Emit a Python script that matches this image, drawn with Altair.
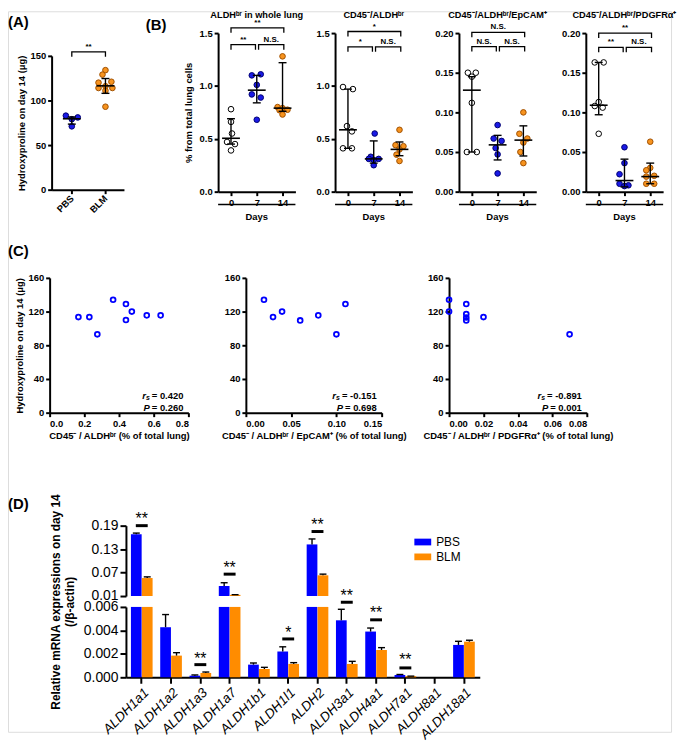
import altair as alt
import pandas as pd

FONT = "Liberation Sans"
BLUE = "#0000FF"
ORANGE = "#FF8C00"
PT_BLUE = "#1a1ae6"
PT_ORANGE = "#f7931e"
ST_BLUE = "#000070"
ST_ORANGE = "#a05000"

# ---------------- Panel A data ----------------
a_cats = ["PBS", "BLM"]
a_pbs = [83, 81, 79, 71]
a_pbs_jit = [-6, 6, 0, 0]
a_blm = [134, 129, 121, 120, 116, 114, 114, 111, 93]
a_blm_jit = [0, -3, 6, -7, 0, -7, 7, 0, 0]
a_center = [79.5, 116.4]
a_low = [73.5, 108.0]
a_high = [81.5, 124.6]
a_br = [(0, 1, 154.5, "**")]

# ---------------- Panel B data ----------------
b_days = ["0", "7", "14"]
b_titles = ["ALDHᵇʳ in whole lung", "CD45⁻/ALDHᵇʳ", "CD45⁻/ALDHᵇʳ/EpCAM⁺", "CD45⁻/ALDHᵇʳ/PDGFRα⁺"]

b1_vals = [[0.78, 0.66, 0.55, 0.47, 0.45, 0.39],
           [1.10, 1.11, 1.01, 0.92, 0.89, 0.68],
           [1.28, 0.80, 0.79, 0.775, 0.77, 0.73]]
b1_jit = [[0, 0, 1, -4, 4, 0], [-5, 4, 0, -5, 4, 0], [0, -5, 0, 5, -3, 0]]
b1_c, b1_lo, b1_hi = [0.505, 0.96, 0.79], [0.45, 0.84, 0.76], [0.69, 1.10, 1.22]

b2_vals = [[0.99, 0.97, 0.62, 0.57, 0.41, 0.41],
           [0.55, 0.33, 0.31, 0.31, 0.30, 0.25],
           [0.585, 0.44, 0.43, 0.40, 0.35, 0.29]]
b2_jit = [[-5, 5, -1, 4, -5, 4], [1, -3, -5, 5, 0, 0], [0, -4, 4, 0, -3, 0]]
b2_c, b2_lo, b2_hi = [0.585, 0.31, 0.40], [0.41, 0.27, 0.34], [0.97, 0.48, 0.47]

b3_vals = [[0.15, 0.15, 0.145, 0.112, 0.05, 0.05],
           [0.084, 0.067, 0.064, 0.055, 0.047, 0.023],
           [0.10, 0.073, 0.067, 0.062, 0.050, 0.036]]
b3_jit = [[-4, 4, 0, 0, -5, 5], [0, -4, 4, -2, 0, 0], [0, -4, 4, 0, -3, 0]]
b3_c, b3_lo, b3_hi = [0.128, 0.059, 0.065], [0.05, 0.040, 0.045], [0.145, 0.071, 0.083]

b4_vals = [[0.163, 0.163, 0.113, 0.108, 0.106, 0.073],
           [0.056, 0.036, 0.022, 0.010, 0.008, 0.007],
           [0.063, 0.030, 0.027, 0.020, 0.019, 0.010, 0.010]]
b4_jit = [[-4, 5, 0, -4, 4, 0], [0, 0, -5, -5, 4, 0], [0, 0, -4, 4, -4, -4, 4]]
b4_c, b4_lo, b4_hi = [0.109, 0.014, 0.019], [0.097, 0.006, 0.010], [0.163, 0.041, 0.036]

# brackets: (from, to, level, label)
b1_br = [(0, 2.05, 1.55, "**"), (0, 0.95, 1.39, "**"), (1.07, 2.05, 1.39, "N.S.")]
b2_br = [(0, 2.05, 1.515, "*"), (0, 0.95, 1.37, "*"), (1.07, 2.05, 1.37, "N.S.")]
b3_br = [(0, 2.05, 0.201, "N.S."), (0, 0.95, 0.183, "N.S."), (1.07, 2.05, 0.183, "N.S.")]
b4_br = [(0, 2.05, 0.200, "**"), (0, 0.95, 0.182, "**"), (1.07, 2.05, 0.182, "N.S.")]

# ---------------- Panel C data ----------------
c1_x = [0.166, 0.229, 0.275, 0.366, 0.44, 0.44, 0.474, 0.56, 0.64]
c1_y = [113.5, 113.5, 93, 134, 129, 110, 120, 115.5, 115.5]
c2_x = [0.02, 0.03, 0.04, 0.06, 0.08, 0.10, 0.11]
c2_y = [134, 113.5, 120, 109.5, 115.5, 93, 129]
c3_x = [0.0, 0.0, 0.01, 0.01, 0.01, 0.01, 0.02, 0.07]
c3_y = [134, 120, 129, 117, 113, 109.5, 113.5, 93]
c_stats = [("0.420", "0.260"), ("-0.151", "0.698"), ("-0.891", "0.001")]
c_titles = ["CD45⁻ / ALDHᵇʳ (% of total lung)",
            "CD45⁻ / ALDHᵇʳ / EpCAM⁺ (% of total lung)",
            "CD45⁻ / ALDHᵇʳ / PDGFRα⁺ (% of total lung)"]

# ---------------- Panel D data ----------------
genes = ["ALDH1a1", "ALDH1a2", "ALDH1a3", "ALDH1a7", "ALDH1b1", "ALDH1l1",
         "ALDH2", "ALDH3a1", "ALDH4a1", "ALDH7a1", "ALDH8a1", "ALDH18a1"]
pbs = [0.168, 0.00427, 0.00014, 0.0357, 0.00108, 0.0022, 0.142, 0.00486, 0.0039, 0.0002, 0.0, 0.00276]
pbs_err = [0.171, 0.00535, 0.0002, 0.044, 0.00122, 0.0026, 0.156, 0.0058, 0.0042, 0.00024, 0.0, 0.00307]
blm = [0.056, 0.00185, 0.00037, 0.013, 0.00071, 0.00114, 0.063, 0.00114, 0.00233, 0.0001, 0.0, 0.00304]
blm_err = [0.059, 0.0021, 0.00045, 0.0135, 0.00085, 0.00125, 0.066, 0.00136, 0.00253, 0.0001, 0.0, 0.00316]
d_sig = [("ALDH1a1", "top", "**", 0.19, 0.214),
         ("ALDH1a7", "top", "**", 0.066, 0.089),
         ("ALDH2", "top", "**", 0.175, 0.199),
         ("ALDH1a3", "bot", "**", 0.00108, 0.0018),
         ("ALDH1l1", "bot", "*", 0.00327, 0.0040),
         ("ALDH3a1", "bot", "**", 0.0064, 0.0072),
         ("ALDH4a1", "bot", "**", 0.0049, 0.0057),
         ("ALDH7a1", "bot", "**", 0.0008, 0.0017)]

# ---------------- layout (picture pixels) ----------------
OFF = 8
W, H = 669, 727
GEO = {
    "A": (52, 125, 53, 188),
    "B1": (220, 298, 30, 190),
    "B2": (338, 416, 30, 190),
    "B3": (463, 541, 30, 190),
    "B4": (591, 669, 30, 190),
    "C1": (50, 190, 277, 413),
    "C2": (248, 385, 277, 413),
    "C3": (453, 592, 277, 413),
    "DT": (127, 484, 527, 598),
    "DB": (127, 484, 609, 680),
}


def P(v):
    return v - OFF


def ax(**kw):
    base = dict(domainColor="black", domainWidth=2, tickColor="black", tickWidth=2, tickSize=4,
                labelFont=FONT, labelFontWeight="bold", labelFontSize=9.5, labelColor="black",
                titleFont=FONT, titleFontWeight="bold", titleFontSize=9.5, titleColor="black",
                grid=False, labelPadding=2)
    base.update(kw)
    return alt.Axis(**base)


def txt(t, x, y, size=15, align="left", baseline="middle", weight="bold", style="normal"):
    return alt.Chart(pd.DataFrame({"t": [t]})).mark_text(
        font=FONT, fontWeight=weight, fontStyle=style, fontSize=size, align=align,
        baseline=baseline, color="black").encode(text="t:N", x=alt.value(P(x)), y=alt.value(P(y)))


def dot_panel(geo, xdom, cats, groups, jits, center, low, high, ymax, yticks, yfmt,
              fills, strokes, brackets, ytitle=None, xangle=0, ytitle_pad=3):
    x0, x1, yt, yb = geo
    ppx = (x1 - x0) / (xdom[1] - xdom[0])
    ppy = (yb - yt) / ymax
    rows = []
    for gi, (vals, js) in enumerate(zip(groups, jits)):
        for v, j in zip(vals, js):
            rows.append({"x": gi + j / ppx, "y": v, "g": cats[gi]})
    pts = pd.DataFrame(rows)
    n = len(cats)
    st = pd.DataFrame({"x": list(range(n)), "c": center, "lo": low, "hi": high})
    caps = pd.DataFrame({"x": list(range(n)) * 2, "y": list(low) + list(high)})
    parts = [f"datum.value == {i} ? '{l}'" for i, l in enumerate(cats[:-1])] + [f"'{cats[-1]}'"]
    expr = " : ".join(parts)
    xaxis_kw = dict(values=list(range(n)), labelExpr=expr, title=None, orient="bottom", offset=P(yb) - H)
    if xangle:
        xaxis_kw.update(labelAngle=xangle, labelAlign="right", labelBaseline="middle", labelPadding=3)
    xaxis = ax(**xaxis_kw)
    yaxis = ax(values=yticks, format=yfmt, title=ytitle, titlePadding=ytitle_pad,
               orient="left", offset=-P(x0))
    xs = alt.Scale(domain=list(xdom), range=[P(x0), P(x1)], nice=False, zero=False)
    ys = alt.Scale(domain=[0, ymax], range=[P(yb), P(yt)], nice=False, zero=False)

    def X(f):
        return alt.X(f, type="quantitative", scale=xs, axis=xaxis)

    def Y(f):
        return alt.Y(f, type="quantitative", scale=ys, axis=yaxis)

    drop = 5 / ppy
    brow = []
    for k, (a, b, yv, lab) in enumerate(brackets):
        for o, (xx, yy) in enumerate([(a, yv - drop), (a, yv), (b, yv), (b, yv - drop)]):
            brow.append({"x": xx, "y": yy, "id": k, "o": o})
    bdf = pd.DataFrame(brow)
    btx = pd.DataFrame([{"x": (a + b) / 2, "y": yv, "t": lab} for a, b, yv, lab in brackets])

    return alt.layer(
        alt.Chart(pts).mark_point(shape="circle", filled=True, size=32, strokeWidth=1, opacity=1).encode(
            x=X("x"), y=Y("y"),
            fill=alt.Fill("g:N", scale=alt.Scale(domain=cats, range=fills), legend=None),
            stroke=alt.Stroke("g:N", scale=alt.Scale(domain=cats, range=strokes), legend=None)),
        alt.Chart(st).mark_rule(color="black", strokeWidth=1.4).encode(x=X("x"), y=Y("lo"), y2="hi"),
        alt.Chart(caps).mark_tick(orient="horizontal", size=8, thickness=1.4, color="black", opacity=1).encode(
            x=X("x"), y=Y("y")),
        alt.Chart(st).mark_tick(orient="horizontal", size=18, thickness=1.6, color="black", opacity=1).encode(
            x=X("x"), y=Y("c")),
        alt.Chart(bdf).mark_line(color="black", strokeWidth=1.3).encode(
            x=X("x"), y=Y("y"), detail="id:N", order="o:Q"),
        alt.Chart(btx).mark_text(font=FONT, fontWeight="bold", fontSize=8, baseline="bottom", dy=-1,
                                 color="black").encode(x=X("x"), y=Y("y"), text="t:N"),
    )


layers = []

# ---------------- Panel A ----------------
layers.append(dot_panel(GEO["A"], (-0.6, 1.55), a_cats, [a_pbs, a_blm], [a_pbs_jit, a_blm_jit],
                        a_center, a_low, a_high, 150, [0, 50, 100, 150], "d",
                        [PT_BLUE, PT_ORANGE], [ST_BLUE, ST_ORANGE], a_br,
                        ytitle="Hydroxyproline on day 14 (μg)", xangle=-45))
layers.append(txt("(A)", 8, 19))

# ---------------- Panel B ----------------
b_sets = [("B1", b1_vals, b1_jit, b1_c, b1_lo, b1_hi, 1.5, [0, 0.5, 1.0, 1.5], ".1f", b1_br),
          ("B2", b2_vals, b2_jit, b2_c, b2_lo, b2_hi, 1.5, [0, 0.5, 1.0, 1.5], ".1f", b2_br),
          ("B3", b3_vals, b3_jit, b3_c, b3_lo, b3_hi, 0.2, [0, 0.05, 0.10, 0.15, 0.20], ".2f", b3_br),
          ("B4", b4_vals, b4_jit, b4_c, b4_lo, b4_hi, 0.2, [0, 0.05, 0.10, 0.15, 0.20], ".2f", b4_br)]
for i, (key, vals, jit, c, lo, hi, ymax, yt, yf, br) in enumerate(b_sets):
    x0, x1, ytop, ybot = GEO[key]
    layers.append(dot_panel(GEO[key], (-0.5, 2.5), b_days, vals, jit, c, lo, hi, ymax, yt, yf,
                            ["white", PT_BLUE, PT_ORANGE], ["black", ST_BLUE, ST_ORANGE], br,
                            ytitle="% from total lung cells" if i == 0 else None, ytitle_pad=6))
    layers.append(txt(b_titles[i], (x0 + x1) / 2, 8, size=9.3, align="center", baseline="top"))
    layers.append(alt.Chart(pd.DataFrame({"t": ["Days"]})).mark_rule(color="black", strokeWidth=1.6).encode(
        x=alt.value(P(x0)), x2=alt.value(P(x1)), y=alt.value(P(ybot + 13))))
    layers.append(txt("Days", (x0 + x1) / 2, ybot + 26, size=9.5, align="center"))
layers.append(txt("(B)", 147, 22))

# ---------------- Panel C ----------------
CW = {".": 0.278, "=": 0.584, " ": 0.278, "-": 0.333}
c_sets = [("C1", c1_x, c1_y, (0, 0.8), [0, 0.2, 0.4, 0.6, 0.8], ".1f"),
          ("C2", c2_x, c2_y, (0, 0.15), [0, 0.05, 0.10, 0.15], ".2f"),
          ("C3", c3_x, c3_y, (0, 0.08), [0, 0.02, 0.04, 0.06, 0.08], ".2f")]
for i, (key, xs_, ys_, xdom, xticks, xfmt) in enumerate(c_sets):
    x0, x1, ytop, ybot = GEO[key]
    df = pd.DataFrame({"x": xs_, "y": ys_})
    xaxis = ax(values=xticks, format=xfmt, title=c_titles[i], titlePadding=3,
               orient="bottom", offset=P(ybot) - H)
    yaxis = ax(values=[0, 40, 80, 120, 160], title="Hydroxyproline on day 14 (μg)" if i == 0 else None,
               titlePadding=4, orient="left", offset=-P(x0))
    layers.append(alt.Chart(df).mark_point(shape="circle", filled=False, size=24, strokeWidth=1.8,
                                           color=BLUE, opacity=1).encode(
        x=alt.X("x:Q", scale=alt.Scale(domain=list(xdom), range=[P(x0), P(x1)], nice=False), axis=xaxis),
        y=alt.Y("y:Q", scale=alt.Scale(domain=[0, 160], range=[P(ybot), P(ytop)], nice=False), axis=yaxis)))
    rs, pv = c_stats[i]
    right = x1 - 5
    fs = 9.5
    for val, lead, yy in ((rs, "r", ybot - 17), (pv, "P", ybot - 5)):
        eq = "= " + val
        w = sum(CW.get(ch, 0.556) for ch in eq) * fs
        layers.append(txt(eq, right, yy, size=fs, align="right"))
        if lead == "r":
            layers.append(txt("s", right - w - 2, yy + 2, size=7, align="right", style="italic"))
            layers.append(txt("r", right - w - 6, yy, size=fs, align="right", style="italic"))
        else:
            layers.append(txt("P", right - w - 2, yy, size=fs, align="right", style="italic"))
layers.append(txt("(C)", 8, 250))

# ---------------- Panel D ----------------
drows = []
for i, g in enumerate(genes):
    drows.append({"gene": g, "grp": "PBS", "v": pbs[i], "e": pbs_err[i]})
    drows.append({"gene": g, "grp": "BLM", "v": blm[i], "e": blm_err[i]})
ddf = pd.DataFrame(drows)
sig = pd.DataFrame([{"gene": g, "seg": s, "t": t, "ly": ly, "ty": ty} for g, s, t, ly, ty in d_sig])

dx0, dx1 = GEO["DT"][0], GEO["DT"][1]
xband = alt.Scale(domain=genes, range=[P(dx0), P(dx1)], paddingInner=0.26, paddingOuter=0.17)
xoff = alt.XOffset("grp:N", sort=["PBS", "BLM"],
                   scale=alt.Scale(domain=["PBS", "BLM"], paddingInner=0.02, paddingOuter=0))
dax = dict(domainColor="black", domainWidth=2, tickColor="black", tickWidth=2, tickSize=6,
           labelFont=FONT, labelFontSize=14, labelFontWeight="normal", labelColor="black", grid=False,
           labelPadding=2)

d_mid = P((GEO["DT"][2] + GEO["DB"][3]) / 2)
top_yaxis = alt.Axis(values=[0.01, 0.07, 0.13, 0.19], format=".2f", orient="left", offset=-P(dx0),
                     title=["Relative mRNA expressions on day 14", "(/β-actin)"],
                     titleFont=FONT, titleFontSize=12, titleFontWeight="bold", titleColor="black",
                     titleX=-71, titleY=d_mid, titleAlign="center", titleBaseline="middle", titleAngle=270,
                     titleLineHeight=14, **dax)
bot_yaxis = alt.Axis(values=[0, 0.002, 0.004, 0.006], format=".3f", title=None, orient="left",
                     offset=-P(dx0), **dax)
bot_xaxis = alt.Axis(title=None, labelAngle=-45, labelFontStyle="italic", orient="bottom",
                     offset=P(GEO["DB"][3]) - H, **{**dax, "labelFontSize": 13.5})
legend = alt.Legend(orient="none", legendX=P(418), legendY=P(535), title=None,
                    symbolType="M-1,-0.4H1V0.4H-1Z", symbolSize=289, symbolStrokeWidth=0,
                    labelFont=FONT, labelFontSize=12, labelColor="black", labelOffset=5, rowPadding=0)


def d_bars(seg, dom, ybot, ytop, xaxis, yaxis, leg):
    ys = alt.Scale(domain=dom, range=[P(ybot), P(ytop)], nice=False, zero=False, clamp=True)
    if seg == "top":
        e = ddf[ddf["e"] > dom[0]]
    else:
        e = ddf[(ddf["e"] > 0) & (ddf["e"] <= dom[1])]
    X = alt.X("gene:N", sort=genes, scale=xband, axis=xaxis)
    bars = alt.Chart(ddf).mark_bar().encode(
        x=X, xOffset=xoff,
        y=alt.Y("v:Q", scale=ys, axis=yaxis), y2=alt.datum(dom[0]),
        color=alt.Color("grp:N", scale=alt.Scale(domain=["PBS", "BLM"], range=[BLUE, ORANGE]), legend=leg))
    err = alt.Chart(e).mark_rule(color="black", strokeWidth=1.4).encode(
        x=X, xOffset=xoff, y=alt.Y("v:Q", scale=ys, axis=yaxis), y2="e:Q")
    cap = alt.Chart(e).mark_tick(orient="horizontal", size=7, thickness=1.4, color="black", opacity=1).encode(
        x=X, xOffset=xoff, y=alt.Y("e:Q", scale=ys, axis=yaxis))
    return alt.layer(bars, err, cap)


def d_marks(seg, dom, ybot, ytop):
    ys = alt.Scale(domain=dom, range=[P(ybot), P(ytop)], nice=False, zero=False)
    s = sig[sig["seg"] == seg]
    X = alt.X("gene:N", sort=genes, scale=xband, axis=None)
    sl = alt.Chart(s).mark_tick(orient="horizontal", size=12, thickness=3, color="black", opacity=1).encode(
        x=X, y=alt.Y("ly:Q", scale=ys, axis=None))
    st = alt.Chart(s).mark_text(font=FONT, fontSize=16, baseline="alphabetic", dy=8, color="black").encode(
        x=X, y=alt.Y("ty:Q", scale=ys, axis=None), text="t:N")
    return alt.layer(sl, st)


_, _, tt, tb = GEO["DT"]
_, _, bt, bb = GEO["DB"]
layers.append(d_bars("top", [0.01, 0.19], tb, tt, None, top_yaxis, legend))
layers.append(d_marks("top", [0.01, 0.19], tb, tt))
layers.append(d_bars("bot", [0, 0.006], bb, bt, bot_xaxis, bot_yaxis, None))
layers.append(d_marks("bot", [0, 0.006], bb, bt))
layers.append(txt("(D)", 8, 505))

chart = alt.layer(*layers).resolve_scale(
    x="independent", y="independent", fill="independent", stroke="independent",
    color="independent", xOffset="independent"
).properties(width=W, height=H, padding=0).configure_view(stroke=None).configure(background="white")

chart.save("out.html", embed_options={"renderer": "svg", "actions": False})
